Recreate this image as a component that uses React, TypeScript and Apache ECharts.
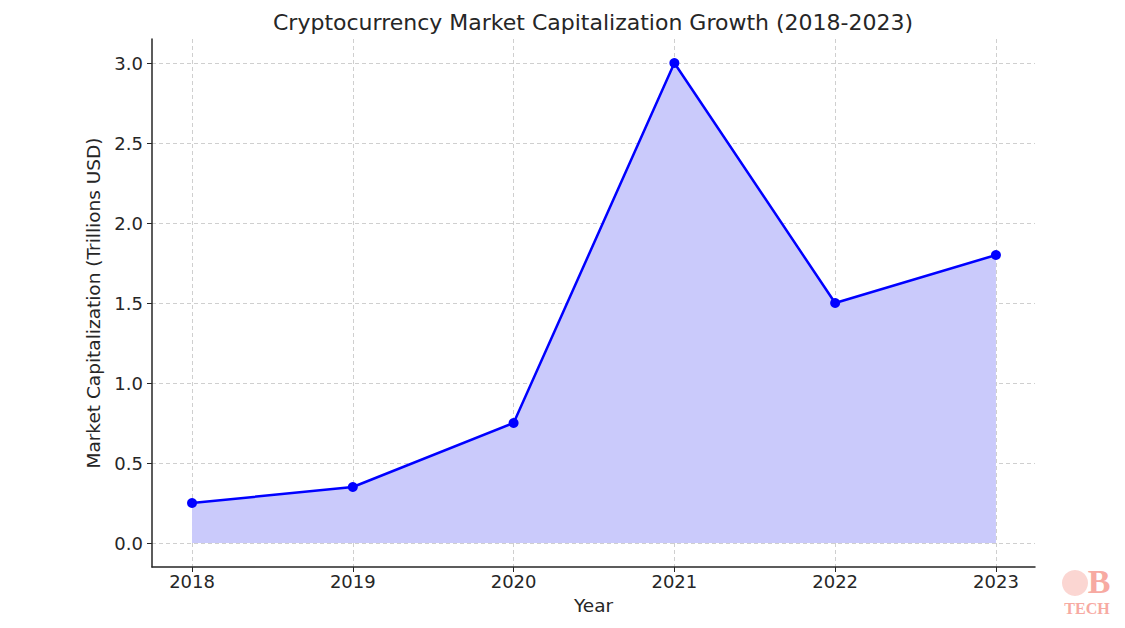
import React, { useEffect, useRef } from "react";
import * as echarts from "echarts";

const years = [2018, 2019, 2020, 2021, 2022, 2023];
const marketCap = [0.25, 0.35, 0.75, 3.0, 1.5, 1.8];
const yTicks = [0, 0.5, 1.0, 1.5, 2.0, 2.5, 3.0];
const xTicks = years;

const FONT = "DejaVu Sans";

export default function App() {
  const ref = useRef<HTMLDivElement>(null);
  useEffect(() => {
    if (!ref.current) return;
    const chart = echarts.init(ref.current, null, { renderer: "svg" });
    const data = years.map((y, i) => [y, marketCap[i]]);
    chart.setOption({
      animation: false,
      backgroundColor: "#ffffff",
      textStyle: { fontFamily: FONT },
      title: {
        text: "Cryptocurrency Market Capitalization Growth (2018-2023)",
        left: 268,
        top: 6,
        textStyle: { fontFamily: FONT, fontSize: 22, fontWeight: "normal", color: "#262626" },
      },
      grid: { left: 152, top: 39, right: 90, bottom: 61, containLabel: false },
      xAxis: {
        type: "value",
        min: 2017.751,
        max: 2023.243,
        name: "Year",
        nameLocation: "middle",
        nameGap: 29,
        nameTextStyle: { fontFamily: FONT, fontSize: 18.5, color: "#262626" },
        axisLine: { show: true, onZero: false, lineStyle: { color: "#262626", width: 1.5 } },
        axisTick: { show: true, length: 5, customValues: xTicks, lineStyle: { color: "#262626" } },
        axisLabel: {
          customValues: xTicks,
          formatter: (v: number) => String(Math.round(v)),
          fontFamily: FONT,
          fontSize: 18,
          color: "#262626",
          margin: 5,
        },
        splitLine: { show: true, lineStyle: { color: "#cfcfcf", type: [4, 3], width: 1 } },
      },
      yAxis: {
        type: "value",
        min: -0.15,
        max: 3.15,
        name: "Market Capitalization (Trillions USD)",
        nameLocation: "middle",
        nameGap: 46,
        nameTextStyle: { fontFamily: FONT, fontSize: 18.5, color: "#262626" },
        axisLine: { show: true, onZero: false, lineStyle: { color: "#262626", width: 1.5 } },
        axisTick: { show: true, length: 5, customValues: yTicks, lineStyle: { color: "#262626" } },
        axisLabel: {
          customValues: yTicks,
          formatter: (v: number) => v.toFixed(1),
          fontFamily: FONT,
          fontSize: 18,
          color: "#262626",
          margin: 9,
        },
        splitLine: { show: true, lineStyle: { color: "#cfcfcf", type: [4, 3], width: 1 } },
      },
      graphic: [
        {
          type: "circle",
          shape: { cx: 1075, cy: 583, r: 13 },
          style: { fill: "#fbd6d2" },
          z: 1,
        },
        {
          type: "text",
          x: 1099,
          y: 581,
          style: {
            text: "B",
            fontFamily: "Liberation Serif",
            fontWeight: "bold",
            fontSize: 34,
            fill: "#f7aaa2",
            align: "center",
            verticalAlign: "middle",
          },
          z: 2,
        },
        {
          type: "text",
          x: 1087,
          y: 608,
          style: {
            text: "TECH",
            fontFamily: "Liberation Serif",
            fontWeight: "bold",
            fontSize: 16,
            fill: "#f7aaa2",
            align: "center",
            verticalAlign: "middle",
          },
          z: 2,
        },
      ],
      series: [
        {
          type: "line",
          data,
          symbol: "circle",
          symbolSize: 10,
          lineStyle: { color: "#0000ff", width: 2.5 },
          itemStyle: { color: "#0000ff" },
          areaStyle: { color: "#cacafb", opacity: 1, origin: 0 },
          z: 3,
        },
      ],
    });
    return () => chart.dispose();
  }, []);
  return <div ref={ref} style={{ width: 1125, height: 628, position: "absolute", left: 0, top: 0 }} />;
}
